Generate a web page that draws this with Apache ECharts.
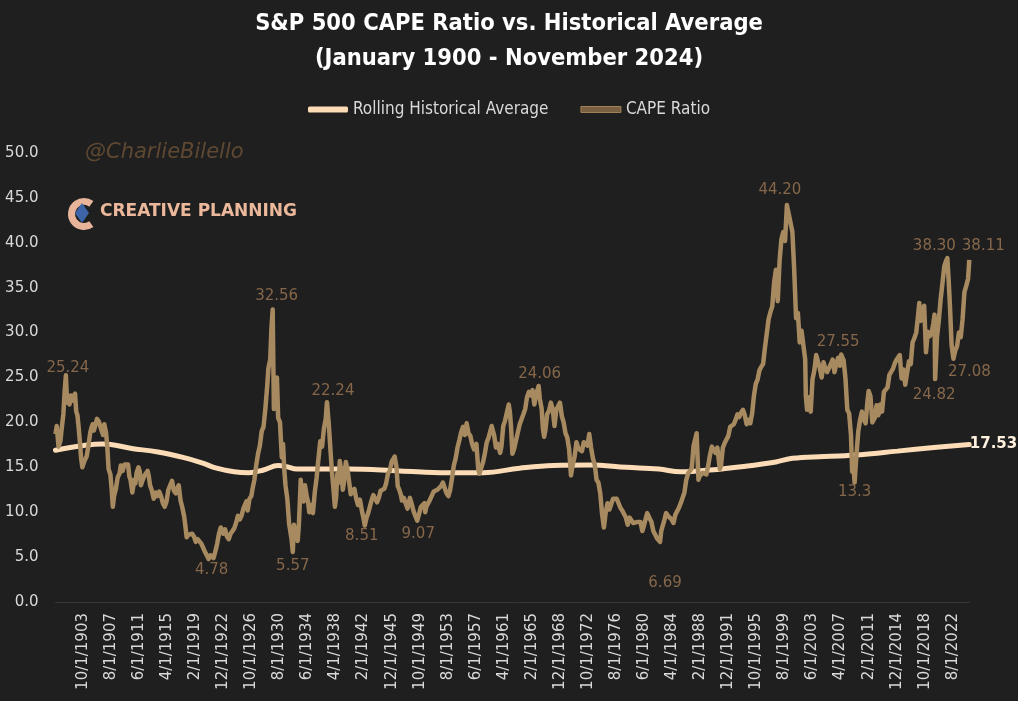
<!DOCTYPE html>
<html>
<head>
<meta charset="utf-8">
<script src="https://cdn.jsdelivr.net/npm/echarts@6/dist/echarts.min.js"></script>
<style>
  html, body { margin: 0; padding: 0; background: #1f1f1f; }
  #chart { width: 1018px; height: 701px; }
</style>
</head>
<body>
<div id="chart"></div>
<script>
// ---------------- DATA ----------------
// CAPE ratio readings (month, value)
const cape1900s = [
  ["1900-01",18.7],["1900-03",19.6],["1900-06",17.3],["1900-09",17.9],["1900-11",19.2],
  ["1901-02",21.0],["1901-04",23.5],["1901-06",25.24],["1901-08",22.2],["1901-10",22.8],["1901-12",22.0],
  ["1902-02",23.0],["1902-04",22.4],["1902-06",22.9],["1902-09",23.2],["1902-11",21.2],
  ["1903-01",20.8],["1903-03",19.4],["1903-05",17.8],["1903-07",16.0],["1903-09",15.0],["1903-11",15.2],
  ["1904-01",15.8],["1904-04",16.2],["1904-07",17.4],["1904-10",18.9],["1904-12",19.4],
  ["1905-02",19.8],["1905-04",19.1],["1905-06",19.6],["1905-09",20.4],["1905-12",20.1],
  ["1906-02",20.3],["1906-04",19.2],["1906-07",18.6],["1906-09",19.8],["1906-12",18.8],
  ["1907-02",17.2],["1907-04",14.8],["1907-07",14.2],["1907-09",12.6],["1907-11",10.6],
  ["1908-01",11.8],["1908-04",12.6],["1908-07",13.9],["1908-10",14.3],["1908-12",15.2],
  ["1909-03",14.6],["1909-06",15.3],["1909-09",15.5],["1909-12",15.3],
  ["1910-02",14.0],["1910-04",13.6],["1910-07",12.2],["1910-10",13.6],["1910-12",13.2],
  ["1911-02",14.4],["1911-05",15.0],["1911-07",14.6],["1911-09",13.0],["1911-12",13.6],
  ["1912-03",14.1],["1912-05",14.3],["1912-08",14.6],["1912-10",14.0],["1912-12",13.0],
  ["1913-03",12.4],["1913-06",11.5],["1913-09",12.2],["1913-12",11.8],
  ["1914-03",12.3],["1914-06",11.8],["1914-09",11.0],["1914-12",10.6],
  ["1915-03",11.2],["1915-06",12.5],["1915-09",13.0],["1915-12",13.5],
  ["1916-03",12.4],["1916-06",12.1],["1916-09",12.7],["1916-11",13.0],
  ["1917-02",11.3],["1917-05",10.5],["1917-08",9.5],["1917-10",8.4],["1917-12",7.2],
  ["1918-03",7.5],["1918-06",7.4],["1918-09",7.6],["1918-12",7.3],
  ["1919-03",6.7],["1919-06",7.0],["1919-09",6.9],["1919-12",6.5],
  ["1920-03",6.3],["1920-06",5.6],["1920-09",5.5],["1920-12",4.78],
  ["1921-03",5.2],["1921-06",5.0],["1921-08",4.9],["1921-11",5.6],
  ["1922-02",6.5],["1922-05",7.6],["1922-08",8.3],["1922-10",8.4],["1922-12",7.6],
  ["1923-03",8.1],["1923-06",7.3],["1923-09",7.0],["1923-12",7.6],
  ["1924-03",7.8],["1924-06",8.2],["1924-09",8.8],["1924-12",9.6],
  ["1925-03",9.2],["1925-06",9.6],["1925-09",10.4],["1925-12",10.9],
  ["1926-02",11.2],["1926-04",10.2],["1926-07",11.5],["1926-10",11.8],["1926-12",12.6],
  ["1927-03",13.6],["1927-06",15.2],["1927-09",16.5],["1927-12",17.4],
  ["1928-03",19.0],["1928-06",19.5],["1928-09",21.5],["1928-12",24.0],
  ["1929-02",26.0],["1929-05",27.0],["1929-07",30.5],["1929-09",32.56],["1929-11",21.5],
  ["1930-01",22.5],["1930-04",25.0],["1930-06",20.5],["1930-09",20.0],["1930-12",16.1],
  ["1931-02",17.6],["1931-04",14.8],["1931-06",13.0],["1931-09",11.5],["1931-12",8.7],
  ["1932-02",8.5],["1932-04",7.0],["1932-06",5.57],["1932-08",8.6],["1932-10",7.8],["1932-12",7.5],
  ["1933-02",6.8],["1933-04",8.6],["1933-07",13.6],["1933-09",11.8],["1933-12",11.2],
  ["1934-02",13.0],["1934-05",11.7],["1934-07",11.2],["1934-09",10.0],["1934-12",10.8],
  ["1935-03",9.9],["1935-06",12.2],["1935-09",13.8],["1935-12",15.9],
  ["1936-03",17.9],["1936-06",17.3],["1936-09",19.3],["1936-12",20.4],
  ["1937-02",22.24],["1937-05",19.8],["1937-08",20.0],["1937-10",14.6],["1937-12",13.1],
  ["1938-03",10.6],["1938-05",11.6],["1938-07",14.3],["1938-09",13.3],["1938-11",15.7],
  ["1939-01",14.8],["1939-04",12.5],["1939-06",13.4],["1939-09",15.6],["1939-12",14.6],
  ["1940-03",14.6],["1940-05",12.0],["1940-08",11.9],["1940-11",12.6],
  ["1941-02",11.5],["1941-05",10.8],["1941-08",11.4],["1941-12",9.9],
  ["1942-02",9.3],["1942-04",8.51],["1942-07",9.4],["1942-10",10.0],["1942-12",10.2],
  ["1943-03",11.3],["1943-06",11.9],["1943-09",11.7],["1943-12",11.1],
  ["1944-03",11.6],["1944-06",12.4],["1944-09",12.2],["1944-12",12.6],
  ["1945-03",13.2],["1945-06",14.3],["1945-09",14.6],["1945-12",15.6],
  ["1946-02",15.8],["1946-05",16.2],["1946-08",15.0],["1946-10",12.9],["1946-12",12.6],
  ["1947-03",12.0],["1947-05",11.3],["1947-08",11.6],["1947-11",11.0],
  ["1948-02",10.4],["1948-06",11.6],["1948-09",10.9],["1948-12",10.1],
  ["1949-03",10.1],["1949-06",9.07],["1949-09",9.8],["1949-12",10.6]
];
const cape1950s = [
  ["1950-03",10.8],["1950-06",11.0],["1950-07",10.0],["1950-09",10.6],["1950-12",10.7],
  ["1951-03",11.4],["1951-06",11.5],["1951-09",12.3],["1951-12",12.4],
  ["1952-03",12.5],["1952-06",12.6],["1952-09",12.9],["1952-12",13.3],
  ["1953-03",13.2],["1953-06",12.1],["1953-09",11.8],["1953-12",12.5],
  ["1954-03",13.8],["1954-06",15.2],["1954-09",16.0],["1954-12",17.2],
  ["1955-03",18.0],["1955-06",18.9],["1955-09",19.5],["1955-12",18.6],
  ["1956-03",19.9],["1956-06",18.8],["1956-09",18.5],["1956-12",17.6],
  ["1957-03",17.0],["1957-07",17.6],["1957-10",14.8],["1957-12",14.3],
  ["1958-03",14.5],["1958-06",15.6],["1958-09",16.6],["1958-12",17.8],
  ["1959-03",18.3],["1959-06",18.5],["1959-08",19.6],["1959-12",18.6],
  ["1960-03",17.2],["1960-06",17.6],["1960-10",16.6],["1960-12",17.3],
  ["1961-03",19.6],["1961-06",20.2],["1961-09",20.1],["1961-12",22.0],
  ["1962-02",21.1],["1962-04",19.2],["1962-06",16.5],["1962-09",17.1],["1962-12",18.0],
  ["1963-03",18.9],["1963-06",19.8],["1963-09",20.0],["1963-12",20.9],
  ["1964-03",21.5],["1964-06",22.8],["1964-09",23.4],["1964-12",23.0],
  ["1965-03",23.6],["1965-06",22.0],["1965-09",23.2],["1965-12",23.8],
  ["1966-01",24.06],["1966-03",22.6],["1966-06",21.5],["1966-08",19.3],["1966-10",18.4],["1966-12",19.1],
  ["1967-03",20.9],["1967-06",21.3],["1967-09",22.2],["1967-12",21.5],
  ["1968-03",19.6],["1968-06",21.4],["1968-09",21.5],["1968-12",22.2],
  ["1969-03",20.7],["1969-06",20.0],["1969-09",18.8],["1969-12",18.3],
  ["1970-03",17.0],["1970-06",14.1],["1970-09",15.3],["1970-12",16.2],
  ["1971-03",17.8],["1971-06",17.1],["1971-09",16.9],["1971-12",16.8],
  ["1972-03",17.8],["1972-06",17.7],["1972-09",17.4],["1972-12",18.7],
  ["1973-03",17.2],["1973-06",16.0],["1973-09",15.3],["1973-12",13.6],
  ["1974-03",13.3],["1974-06",12.1],["1974-09",9.8],["1974-12",8.3],
  ["1975-03",10.0],["1975-06",11.0],["1975-09",10.3],["1975-12",10.4],
  ["1976-03",11.5],["1976-06",11.3],["1976-09",11.5],["1976-12",11.3],
  ["1977-03",10.5],["1977-06",10.2],["1977-09",9.8],["1977-12",9.4],
  ["1978-03",8.6],["1978-06",9.4],["1978-09",9.6],["1978-12",8.8],
  ["1979-03",8.8],["1979-06",8.9],["1979-09",9.1],["1979-12",8.9],
  ["1980-03",7.9],["1980-06",8.6],["1980-09",9.4],["1980-11",9.9],
  ["1981-03",9.3],["1981-06",8.9],["1981-09",7.9],["1981-12",7.9],
  ["1982-03",7.1],["1982-06",7.0],["1982-08",6.69],["1982-10",7.9],["1982-12",8.4],
  ["1983-03",9.1],["1983-06",9.9],["1983-09",9.6],["1983-12",9.6],
  ["1984-03",9.2],["1984-06",8.8],["1984-09",9.7],["1984-12",9.8],
  ["1985-03",10.5],["1985-06",11.0],["1985-09",10.9],["1985-12",12.2],
  ["1986-03",13.6],["1986-06",14.3],["1986-09",14.1],["1986-12",14.9],
  ["1987-03",17.4],["1987-06",17.6],["1987-08",18.8],["1987-11",13.6],["1987-12",13.9],
  ["1988-03",14.0],["1988-06",14.4],["1988-09",14.3],["1988-12",14.2],
  ["1989-03",15.2],["1989-06",16.4],["1989-09",17.3],["1989-12",17.1],
  ["1990-03",16.6],["1990-06",17.2],["1990-10",14.8],["1990-12",15.2],
  ["1991-03",17.2],["1991-06",17.7],["1991-09",17.9],["1991-12",18.5],
  ["1992-03",19.5],["1992-06",19.6],["1992-09",19.8],["1992-12",20.3],
  ["1993-03",20.9],["1993-06",20.6],["1993-09",21.1],["1993-12",21.4],
  ["1994-03",20.8],["1994-06",19.8],["1994-09",20.3],["1994-12",19.9],
  ["1995-03",21.0],["1995-06",23.0],["1995-09",24.3],["1995-12",24.8],
  ["1996-03",25.8],["1996-06",26.2],["1996-09",26.5],["1996-12",28.3],
  ["1997-03",28.2],["1997-06",31.5],["1997-09",32.3],["1997-12",32.9],
  ["1998-03",35.6],["1998-06",37.0],["1998-09",33.5],["1998-12",38.0],
  ["1999-03",40.4],["1999-06",41.2],["1999-09",40.2],["1999-12",44.20]
];
const cape2000s = [
  ["2000-03",43.2],["2000-06",42.2],["2000-09",41.2],["2000-12",36.9],
  ["2001-03",31.6],["2001-06",32.2],["2001-09",28.9],["2001-12",30.2],
  ["2002-03",30.3],["2002-06",27.0],["2002-07",23.0],["2002-09",21.4],["2002-12",22.8],
  ["2003-03",21.2],["2003-06",24.8],["2003-09",25.8],["2003-12",27.5],
  ["2004-03",27.6],["2004-06",26.0],["2004-09",25.0],["2004-12",26.7],
  ["2005-03",26.0],["2005-06",25.6],["2005-09",25.8],["2005-12",26.5],
  ["2006-03",27.0],["2006-06",25.6],["2006-09",26.5],["2006-12",27.2],
  ["2007-03",26.3],["2007-05",27.55],["2007-09",26.9],["2007-12",24.9],
  ["2008-03",21.4],["2008-06",21.0],["2008-09",18.6],["2008-11",14.5],
  ["2009-01",15.2],["2009-03",13.3],["2009-06",16.4],["2009-09",19.0],["2009-12",20.3],
  ["2010-03",21.2],["2010-06",20.3],["2010-09",19.9],["2010-12",22.3],
  ["2011-02",23.5],["2011-05",22.9],["2011-08",20.0],["2011-10",19.9],["2011-12",20.5],
  ["2012-03",21.9],["2012-06",20.8],["2012-09",22.0],["2012-12",21.2],
  ["2013-03",23.4],["2013-06",23.4],["2013-09",23.9],["2013-12",25.3],
  ["2014-03",25.4],["2014-06",26.0],["2014-09",26.6],["2014-12",27.0],
  ["2015-03",27.2],["2015-05",27.5],["2015-08",24.9],["2015-11",25.9],
  ["2016-02",24.2],["2016-05",25.5],["2016-08",26.8],["2016-11",26.5],
  ["2017-02",28.9],["2017-05",29.4],["2017-08",30.0],["2017-11",31.9],
  ["2018-01",33.3],["2018-03",31.3],["2018-06",32.0],["2018-09",33.0],["2018-12",27.8],
  ["2019-03",30.1],["2019-06",29.6],["2019-09",29.9],["2019-12",31.0],
  ["2020-02",32.0],["2020-03",24.82],["2020-06",29.5],["2020-09",31.3],["2020-12",33.7],
  ["2021-03",35.5],["2021-06",37.4],["2021-09",38.0],["2021-11",38.30],
  ["2022-01",36.0],["2022-03",33.4],["2022-06",28.6],["2022-09",27.08],["2022-12",28.0],
  ["2023-03",28.5],["2023-06",30.0],["2023-09",29.5],["2023-12",31.5],
  ["2024-03",34.5],["2024-06",35.2],["2024-09",36.0],["2024-11",38.11]
];
// Rolling historical average readings
const avgPoints = [
  ["1900-01",16.9],["1903-09",17.4],["1906-06",17.6],["1910-06",17.1],["1914-01",16.7],
  ["1917-06",16.1],["1920-01",15.5],["1922-01",14.9],["1924-06",14.5],["1926-06",14.4],
  ["1928-06",14.7],["1930-06",15.2],["1931-06",15.1],["1933-01",14.8],["1940-01",14.8],
  ["1947-01",14.6],["1953-06",14.4],["1958-06",14.4],["1963-06",14.9],["1968-01",15.2],
  ["1973-01",15.25],["1978-01",15.0],["1982-06",14.8],["1985-06",14.5],["1989-06",14.7],
  ["1994-01",15.1],["1998-06",15.6],["2000-09",16.0],["2005-01",16.2],["2010-01",16.4],
  ["2015-01",16.8],["2020-01",17.2],["2024-11",17.53]
];
// Annotated CAPE points and their label texts
const annotMonths = ["1901-06","1920-12","1929-09","1932-06","1937-02","1942-04","1949-06","1966-01",
                     "1982-08","1999-12","2007-05","2009-03","2020-03","2021-11","2022-09","2024-11"];
const annotTexts  = ["25.24","4.78","32.56","5.57","22.24","8.51","9.07","24.06",
                     "6.69","44.20","27.55","13.3","24.82","38.30","27.08","38.11"];
const avgEndText = "17.53";
const yTicks = [0, 50, 5];

// ---------------- STYLE (label placement) ----------------
const labelOffsets = {
  "1901-06":[2,-7], "1920-12":[3,11], "1929-09":[4,-14], "1932-06":[0,14], "1937-02":[6,-11],
  "1942-04":[-3,11], "1949-06":[1,14], "1966-01":[1,-12], "1982-08":[5,41], "1999-12":[-7,-15],
  "2007-05":[-3,-12], "2009-03":[0,10], "2020-03":[-1,16], "2021-11":[-13,-12], "2022-09":[16,13],
  "2024-11":[14,-14]
};

// ---------------- BUILD ----------------
const categories = [];
const monthKey = {};
for (let y = 1900; y <= 2024; y++) {
  for (let m = 1; m <= 12; m++) {
    if (y === 2024 && m > 11) break;
    const lab = m + '/1/' + y;
    monthKey[y + '-' + String(m).padStart(2, '0')] = lab;
    categories.push(lab);
  }
}
const capeAll = cape1900s.concat(cape1950s, cape2000s);
const capeData = capeAll.map(([k, v]) => {
  const item = { value: [monthKey[k], v] };
  const ai = annotMonths.indexOf(k);
  if (ai >= 0) {
    item.label = { show: true, position: 'inside', formatter: annotTexts[ai], offset: labelOffsets[k] };
  }
  return item;
});
const avgData = avgPoints.map(([k, v], i) => {
  const item = { value: [monthKey[k], v] };
  if (i === avgPoints.length - 1) {
    item.label = { show: true, position: 'right', distance: 0, formatter: avgEndText,
      color: '#fff1de', fontWeight: 'bold', fontFamily: 'DejaVu Sans', fontSize: 15 };
  }
  return item;
});

const chart = echarts.init(document.getElementById('chart'), null, { renderer: 'canvas' });
const narrow = "'Liberation Sans Narrow', 'DejaVu Sans Condensed', 'Open Sans', sans-serif";
chart.setOption({
  backgroundColor: '#1f1f1f',
  animation: false,
  title: {
    text: 'S&P 500 CAPE Ratio vs. Historical Average\n(January 1900 - November 2024)',
    left: 'center', top: 1,
    textStyle: { color: '#ffffff', fontFamily: narrow, fontWeight: 'bold', fontSize: 23.5, lineHeight: 35 }
  },
  legend: {
    top: 96, left: 'center', itemGap: 32, itemWidth: 40, itemHeight: 6,
    textStyle: { color: '#d9d9d9', fontFamily: narrow, fontSize: 17 },
    data: [
      { name: 'Rolling Historical Average', icon: 'roundRect', itemStyle: { color: '#fbdcb6' } },
      { name: 'CAPE Ratio', icon: 'rect', itemStyle: { color: '#7a5f40', borderColor: '#a0825a', borderWidth: 1 } }
    ]
  },
  grid: { left: 55.5, right: 48.7, top: 153, bottom: 99, containLabel: false },
  xAxis: {
    type: 'category', data: categories, boundaryGap: false,
    axisLine: { show: true, lineStyle: { color: '#363636', width: 1 } },
    axisTick: { show: false },
    axisLabel: {
      rotate: 90, margin: 11, color: '#d9d9d9', fontFamily: 'DejaVu Sans', fontSize: 15,
      interval: (idx) => idx >= 45 && (idx - 45) % 46 === 0
    },
    splitLine: { show: false }
  },
  yAxis: {
    type: 'value', min: yTicks[0], max: yTicks[1], interval: yTicks[2],
    axisLine: { show: false }, axisTick: { show: false }, splitLine: { show: false },
    axisLabel: { margin: 17, color: '#d9d9d9', fontFamily: 'DejaVu Sans', fontSize: 15,
      formatter: (v) => v.toFixed(1) }
  },
  graphic: [
    { type: 'text', left: 85, top: 142, style: { text: '@CharlieBilello', fill: '#5e4832',
      font: 'italic 21px "DejaVu Sans"' } },
    { type: 'arc', shape: { cx: 84, cy: 214, r: 12.5, startAngle: Math.PI * 0.3, endAngle: Math.PI * 1.7, clockwise: true },
      style: { stroke: '#e8b59b', lineWidth: 7, fill: null } },
    { type: 'polygon', shape: { points: [[75, 213], [82, 203], [89, 213], [82, 223]] },
      style: { fill: '#3d64a6' } },
    { type: 'text', left: 100, top: 203, style: { text: 'CREATIVE PLANNING', fill: '#ebb89c',
      font: 'bold 17px "DejaVu Sans"' } }
  ],
  series: [
    {
      name: 'Rolling Historical Average', type: 'line', data: avgData, smooth: 0.4,
      symbol: 'circle', symbolSize: 1, showAllSymbol: true,
      itemStyle: { color: 'rgba(0,0,0,0)' },
      lineStyle: { color: '#fbdcb6', width: 5, cap: 'round' },
      z: 2
    },
    {
      name: 'CAPE Ratio', type: 'line', data: capeData,
      symbol: 'circle', symbolSize: 1, showAllSymbol: true,
      itemStyle: { color: 'rgba(0,0,0,0)' },
      lineStyle: { color: '#a88a60', width: 4.5, join: 'round' },
      label: { show: false, color: '#86674a', fontFamily: 'DejaVu Sans', fontSize: 15 },
      z: 3
    }
  ]
});
</script>
</body>
</html>
